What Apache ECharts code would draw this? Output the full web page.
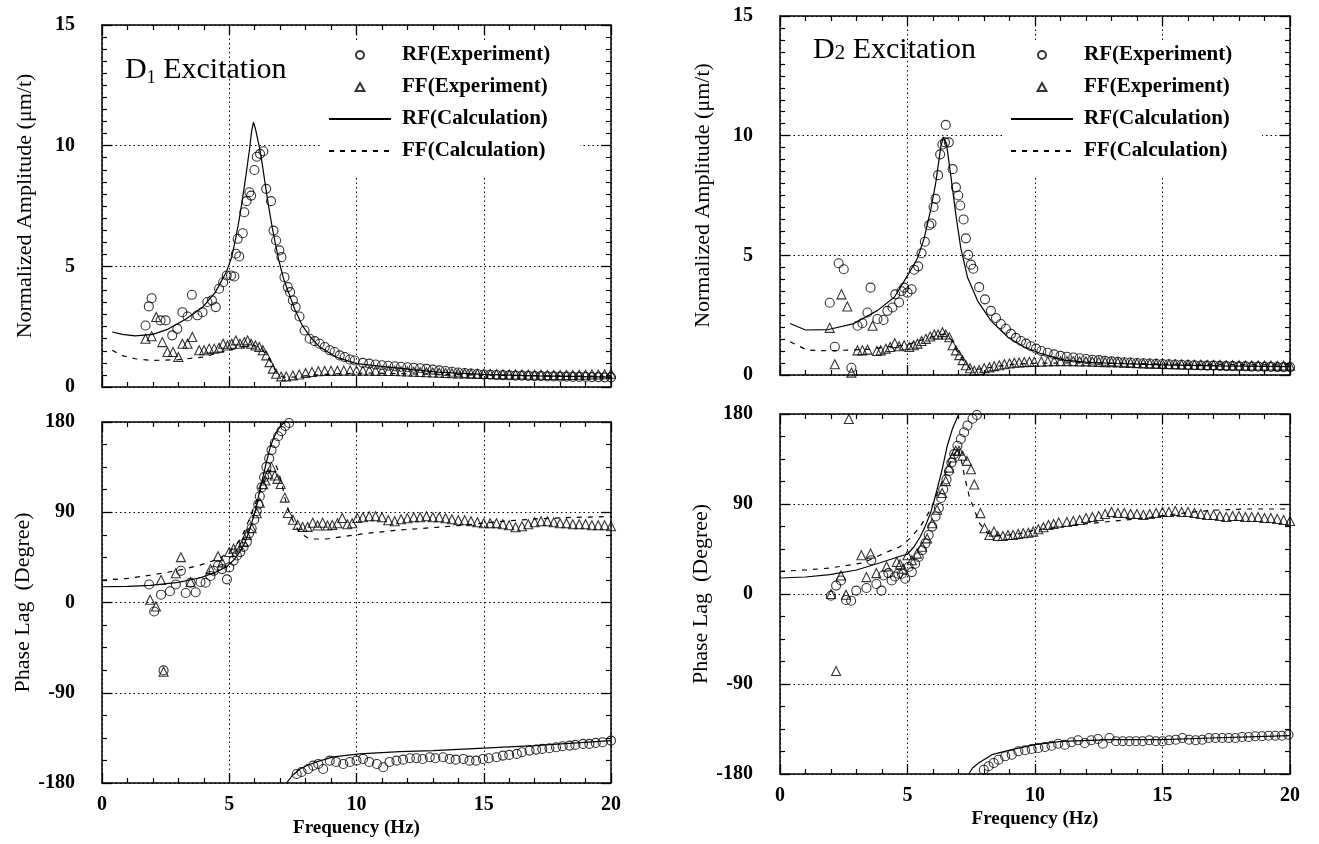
<!DOCTYPE html>
<html>
<head>
<meta charset="utf-8">
<script src="https://cdn.jsdelivr.net/npm/echarts@6/dist/echarts.min.js"></script>
<style>
html,body{margin:0;padding:0;background:#fff;}
#chart{width:1319px;height:844px;}
</style>
</head>
<body>
<div id="chart"></div>
<script>
// ---------- tick labels ----------
const freqTicks = [0, 5, 10, 15, 20];
const ampTicks = [0, 5, 10, 15];
const phaseTicks = [-180, -90, 0, 90, 180];

// ---------- series names ----------
const seriesNames = ['RF(Experiment)', 'FF(Experiment)', 'RF(Calculation)', 'FF(Calculation)'];

// shared frequency grid of the high-frequency tails (Hz)
const tailFreq = [10.25,10.5,10.75,11,11.25,11.5,11.75,12,12.25,12.5,12.75,13,13.25,13.5,13.75,14,14.25,14.5,14.75,15,15.25,15.5,15.75,16,16.25,16.5,16.75,17,17.25,17.5,17.75,18,18.25,18.5,18.75,19,19.25,19.5,19.75,20];

// ================= D1 excitation : amplitude =================
const d1AmpRfExp = [[1.71,2.55],[1.84,3.34],[1.95,3.68],[2.3,2.76],[2.5,2.76],[2.76,2.14],[2.96,2.41],[3.16,3.1],[3.36,2.92],[3.53,3.82],[3.75,2.97],[3.95,3.1],[4.14,3.52],[4.32,3.59],[4.47,3.31],[4.6,4.07],[4.76,4.34],[4.9,4.62],[5.07,4.62],[5.2,4.58],[5.26,5.52],[5.33,6.14],[5.39,5.41],[5.53,6.37],[5.59,7.24],[5.68,7.7],[5.79,8.07],[5.86,7.93],[5.99,8.99],[6.08,9.54],[6.21,9.66],[6.34,9.77],[6.45,8.21],[6.64,7.7],[6.74,6.48],[6.84,6.07],[6.97,5.66],[7.05,5.38],[7.17,4.55],[7.3,4.14],[7.39,3.93],[7.5,3.59],[7.61,3.31],[7.76,2.92],[7.96,2.34],[8.16,2.0],[8.36,1.9],[8.55,1.79],[8.75,1.66],[8.95,1.52],[9.14,1.45],[9.34,1.31],[9.54,1.24],[9.74,1.14],[9.93,1.1]];
const d1AmpRfExpTail = [1.0,0.97,0.93,0.9,0.88,0.86,0.84,0.82,0.8,0.78,0.75,0.72,0.69,0.66,0.63,0.6,0.58,0.56,0.54,0.52,0.51,0.5,0.49,0.48,0.47,0.47,0.46,0.45,0.45,0.44,0.44,0.43,0.43,0.42,0.42,0.42,0.41,0.41,0.4,0.4];
const d1AmpFfExp = [[1.71,2.0],[1.95,2.1],[2.13,2.9],[2.37,1.86],[2.57,1.45],[2.79,1.45],[3.0,1.24],[3.16,1.79],[3.36,1.79],[3.55,2.07],[3.82,1.52],[4.01,1.52],[4.21,1.59],[4.41,1.59],[4.6,1.63],[4.76,1.79],[4.93,1.72],[5.1,1.79],[5.26,1.93],[5.42,1.79],[5.59,1.86],[5.72,1.93],[5.86,1.79],[6.03,1.72],[6.18,1.66],[6.32,1.52],[6.45,1.31],[6.58,1.03],[6.71,0.76],[6.84,0.55],[7.04,0.44],[7.24,0.44],[7.5,0.48],[7.75,0.52],[8.0,0.58],[8.25,0.62],[8.5,0.65],[8.75,0.66],[9.0,0.67],[9.25,0.67],[9.5,0.68],[9.75,0.68],[10.0,0.68]];
const d1AmpFfExpTail = [0.68,0.68,0.67,0.67,0.66,0.66,0.65,0.64,0.63,0.62,0.61,0.6,0.59,0.58,0.57,0.56,0.56,0.55,0.55,0.54,0.54,0.53,0.53,0.52,0.52,0.52,0.51,0.51,0.51,0.5,0.5,0.5,0.5,0.5,0.51,0.51,0.52,0.52,0.53,0.55];
const d1AmpRfCalc = [[0.4,2.28],[0.8,2.18],[1.3,2.12],[2.0,2.18],[2.6,2.4],[3.3,2.82],[3.95,3.3],[4.45,3.92],[4.9,4.8],[5.1,5.4],[5.26,6.2],[5.4,7.0],[5.53,7.86],[5.66,8.8],[5.79,9.8],[5.88,10.6],[5.95,10.97],[6.03,10.7],[6.13,10.2],[6.23,9.7],[6.33,9.0],[6.43,8.28],[6.56,7.4],[6.69,6.6],[6.82,5.9],[6.95,5.24],[7.13,4.5],[7.35,3.86],[7.58,3.2],[7.87,2.55],[8.2,2.05],[8.55,1.66],[9.2,1.24],[10.0,0.97],[11.2,0.83],[12.2,0.72],[13.2,0.62],[15.0,0.52],[17.1,0.46],[20.0,0.41]];
const d1AmpFfCalc = [[0.4,1.52],[0.8,1.3],[1.3,1.17],[2.0,1.1],[3.0,1.13],[3.95,1.24],[4.7,1.45],[5.5,1.66],[6.0,1.72],[6.25,1.59],[6.45,1.35],[6.6,1.1],[6.85,0.62],[7.1,0.41],[7.5,0.41],[8.16,0.48],[9.2,0.55],[10.5,0.58],[13.2,0.52],[15.8,0.48],[20.0,0.44]];

// ================= D1 excitation : phase =================
const d1PhRfExp = [[1.85,18],[2.05,-9],[2.32,7.8],[2.42,-67.7],[2.67,11.2],[2.9,18],[3.1,31.6],[3.29,9.5],[3.48,19.7],[3.68,10.2],[3.87,20.4],[4.07,19.7],[4.26,26.5],[4.39,31.6],[4.56,36.7],[4.72,33.3],[4.91,23.1],[5.0,35],[5.17,41.8],[5.3,46.9],[5.43,50.3],[5.56,55.4],[5.69,60.5],[5.78,69],[5.88,74],[5.98,82.5],[6.08,91],[6.14,97.8],[6.2,106],[6.27,114.8],[6.37,125],[6.46,135.2],[6.57,143.7],[6.66,152],[6.79,159],[6.92,165.8],[7.05,170.9],[7.2,176],[7.35,179]];
const d1PhRfExpLow = [[7.65,-171],[7.84,-169],[8.1,-166],[8.3,-162.7],[8.5,-161],[8.69,-166],[8.95,-157.7],[9.2,-159],[9.48,-161],[9.74,-159],[10.0,-157.7],[10.26,-156],[10.5,-159],[10.8,-161],[11.05,-164.3],[11.3,-159],[11.57,-157.7],[11.83,-156.7],[12.1,-155.3],[12.35,-155.3],[12.6,-156],[12.88,-154.3],[13.1,-155.3],[13.4,-154.3],[13.66,-156],[13.9,-156.7],[14.2,-156],[14.44,-157.7],[14.7,-157.7],[14.97,-156],[15.2,-155.3],[15.5,-154.3],[15.75,-152.7],[16.0,-152],[16.3,-151],[16.5,-149.3],[16.8,-147.7],[17.06,-146.7],[17.3,-146],[17.58,-145.3],[17.84,-144.3],[18.1,-143.3],[18.37,-142.7],[18.6,-142],[18.9,-141],[19.15,-141],[19.4,-140],[19.67,-139.3],[20.0,-137.7]];
const d1PhFfExp = [[1.89,2.7],[2.12,-4],[2.32,22.4],[2.42,-69],[2.9,29.2],[3.1,45.2],[3.48,20.4],[4.26,33.3],[4.56,46.2],[4.72,40],[5.0,50.3],[5.17,53.7],[5.36,57],[5.56,60.5],[5.69,67.3],[5.88,74],[6.08,89],[6.2,99.5],[6.33,118],[6.42,121.6],[6.53,128.4],[6.66,135],[6.79,126.7],[6.89,123.3],[7.02,118.2],[7.18,104.6],[7.3,89.3],[7.5,82.5],[7.69,77.4],[7.88,75.4],[8.08,75.4],[8.28,79.5],[8.47,76.8],[8.67,79.5],[8.86,76.8],[9.05,77.4],[9.25,79],[9.44,84.2],[9.64,78],[9.83,79],[10.03,84.2]];
const d1PhFfExpTail = [85,86,86,85,82,81,83,84,85,85,86,85,85,84,83,82,82,81,80,79,79,79,78,77,75,76,78,80,81,81,80,79,79,78,78,78,77,77,77,76];
const d1PhRfCalcUp = [[0,15.7],[1.0,16],[1.9,17],[3.0,20],[3.86,24.7],[4.4,29.5],[4.9,35.7],[5.2,43],[5.42,50.7],[5.62,60],[5.82,74],[5.95,85],[6.08,97],[6.2,112],[6.34,127],[6.47,141],[6.6,154],[6.73,163],[6.86,170],[7.05,177],[7.2,180]];
const d1PhRfCalcLow = [[7.25,-180],[7.5,-172],[7.78,-166],[8.1,-162],[8.43,-159],[9.08,-154],[10.13,-151],[11.7,-148.7],[13.0,-147.7],[15.0,-145.3],[17.0,-142.7],[20.0,-137.7]];
const d1PhFfCalc = [[0,22.3],[1.0,24],[1.9,27.3],[3.0,32],[3.86,37.3],[4.64,44],[5.16,54],[5.45,63],[5.69,77],[5.9,90],[6.08,102],[6.28,115],[6.47,125.7],[6.73,135.7],[6.85,136],[6.93,130.7],[7.05,120],[7.19,104],[7.35,90],[7.52,80.7],[7.78,69],[8.17,63.3],[8.82,63.3],[9.74,66.7],[10.4,69],[11.7,72.3],[13.0,74.7],[14.3,77.3],[15.6,80.7],[17.0,83.3],[18.2,84.7],[20.0,85.7]];

// ================= D2 excitation : amplitude =================
const d2AmpRfExp = [[1.95,3.02],[2.15,1.18],[2.3,4.67],[2.5,4.42],[2.8,0.3],[3.04,2.06],[3.23,2.16],[3.43,2.61],[3.55,3.65],[3.82,2.34],[4.06,2.3],[4.21,2.68],[4.41,2.82],[4.52,3.37],[4.67,3.03],[4.76,3.5],[4.87,3.65],[5.0,3.44],[5.16,3.58],[5.26,4.4],[5.42,4.54],[5.55,5.09],[5.68,5.57],[5.85,6.26],[5.94,6.33],[6.02,7.02],[6.1,7.36],[6.2,8.35],[6.28,9.22],[6.37,9.63],[6.47,9.72],[6.5,10.45],[6.62,9.72],[6.77,8.6],[6.9,7.84],[6.99,7.5],[7.07,7.08],[7.2,6.5],[7.29,5.71],[7.38,5.02],[7.49,4.61],[7.58,4.44],[7.81,3.67],[8.04,3.16],[8.27,2.68],[8.47,2.38],[8.66,2.13],[8.86,1.93],[9.06,1.72],[9.25,1.55],[9.45,1.42],[9.65,1.31],[9.84,1.2],[10.04,1.1]];
const d2AmpRfExpTail = [1.0,0.93,0.86,0.8,0.76,0.73,0.7,0.67,0.64,0.62,0.59,0.57,0.55,0.53,0.52,0.5,0.49,0.48,0.47,0.46,0.45,0.44,0.43,0.42,0.41,0.4,0.39,0.39,0.38,0.37,0.37,0.36,0.36,0.35,0.35,0.34,0.34,0.33,0.33,0.33];
const d2AmpFfExp = [[1.95,1.97],[2.15,0.45],[2.41,3.37],[2.64,2.86],[2.8,0.1],[3.04,1.03],[3.23,1.03],[3.43,1.06],[3.63,2.06],[3.8,1.0],[3.95,1.03],[4.15,1.1],[4.32,1.17],[4.5,1.33],[4.67,1.2],[4.87,1.24],[5.07,1.17],[5.24,1.24],[5.39,1.31],[5.55,1.42],[5.72,1.51],[5.89,1.61],[6.05,1.69],[6.2,1.69],[6.37,1.79],[6.5,1.69],[6.64,1.58],[6.77,1.24],[6.9,1.03],[7.03,0.83],[7.16,0.62],[7.29,0.41],[7.45,0.28],[7.62,0.18],[7.81,0.21],[8.01,0.28],[8.21,0.32],[8.4,0.37],[8.6,0.41],[8.8,0.45],[9.0,0.48],[9.19,0.51],[9.38,0.52],[9.58,0.54],[9.78,0.55],[9.97,0.55]];
const d2AmpFfExpTail = [0.56,0.57,0.58,0.58,0.58,0.58,0.57,0.57,0.56,0.55,0.54,0.53,0.52,0.51,0.5,0.49,0.48,0.47,0.47,0.46,0.45,0.45,0.44,0.44,0.43,0.43,0.42,0.42,0.42,0.41,0.41,0.41,0.4,0.4,0.4,0.4,0.4,0.39,0.39,0.39];
const d2AmpRfCalc = [[0.4,2.15],[1.0,1.88],[1.9,1.9],[2.9,2.15],[3.83,2.7],[4.49,3.26],[5.0,4.15],[5.39,4.88],[5.65,5.7],[5.92,6.95],[6.11,8.05],[6.31,9.56],[6.41,9.95],[6.54,9.56],[6.7,8.32],[6.9,6.67],[7.09,5.3],[7.36,4.06],[7.75,3.1],[8.27,2.27],[8.93,1.58],[9.58,1.17],[10.24,0.89],[11.15,0.62],[12.0,0.54],[13.2,0.48],[15.0,0.42],[17.2,0.38],[20.0,0.35]];
const d2AmpFfCalc = [[0.4,1.39],[1.06,1.04],[1.91,1.01],[2.64,1.04],[3.43,1.07],[4.22,1.18],[4.95,1.25],[5.54,1.46],[6.2,1.67],[6.46,1.71],[6.73,1.46],[6.99,0.9],[7.26,0.49],[7.52,0.21],[7.78,0.24],[8.44,0.35],[9.23,0.46],[10.0,0.49],[11.9,0.51],[15.0,0.46],[20.0,0.42]];

// ================= D2 excitation : phase =================
const d2PhRfExp = [[2.0,-1.7],[2.2,8.4],[2.39,13.5],[2.59,-6],[2.79,-6.7],[2.99,3.4],[3.39,6],[3.58,33.7],[3.78,10],[3.98,3.4],[4.05,18.5],[4.25,20.9],[4.38,13.5],[4.51,17.5],[4.64,20.2],[4.78,20.2],[4.91,15.2],[5.04,27],[5.17,21.9],[5.3,30.3],[5.44,37],[5.57,43.8],[5.7,50.6],[5.83,59],[5.97,67.4],[6.1,77.5],[6.23,86],[6.32,96],[6.4,104.5],[6.53,114.6],[6.63,123],[6.72,131.4],[6.83,139.9],[6.96,148.3],[7.09,155],[7.22,161.8],[7.35,168.5],[7.55,175.3],[7.72,179]];
const d2PhRfExpLow = [[7.99,-175.7],[8.18,-172.3],[8.38,-169],[8.57,-165.7],[8.83,-162.3],[9.09,-160.7],[9.35,-157.3],[9.61,-156.3],[9.87,-155],[10.13,-154],[10.39,-153],[10.65,-151.7],[10.91,-149.7],[11.17,-150.7],[11.43,-148.3],[11.69,-146.3],[11.95,-149],[12.21,-146.3],[12.47,-145],[12.66,-149.7],[12.92,-144],[13.18,-147.3],[13.44,-147.3],[13.7,-147.3],[13.96,-147.3],[14.22,-147.3],[14.48,-146.3],[14.74,-147.3],[15.0,-147.3],[15.26,-146.3],[15.52,-145.7],[15.78,-144],[16.04,-145.7],[16.3,-146.3],[16.56,-145.7],[16.82,-144],[17.08,-144],[17.34,-144],[17.6,-144],[17.86,-144],[18.12,-143],[18.38,-143],[18.64,-142.3],[18.9,-142.3],[19.16,-141.7],[19.42,-141.7],[19.68,-141.7],[19.94,-140.7]];
const d2PhFfExp = [[2.0,0],[2.2,-77],[2.39,18.5],[2.59,-0.7],[2.7,175],[3.19,38.8],[3.39,16.9],[3.55,40.4],[3.78,20.9],[4.18,27.6],[4.58,32],[4.71,29.7],[4.84,25.3],[5.0,38.8],[5.17,33.7],[5.37,40.4],[5.57,47.2],[5.77,55.6],[5.97,70.8],[6.16,84.3],[6.36,101],[6.5,112.9],[6.63,126.4],[6.76,136.5],[6.89,143.2],[7.02,143.2],[7.16,138.2],[7.33,133.1],[7.49,124.7],[7.62,109.5],[7.86,80.9],[8.02,65.7],[8.21,59],[8.39,62.4],[8.54,58],[8.74,58],[8.94,59],[9.14,59],[9.34,60],[9.54,60.7],[9.74,61.3],[9.93,62.4],[10.13,64.7],[10.33,66.7],[10.53,69],[10.73,70],[10.93,71.4],[11.25,72],[11.5,73],[11.75,74],[12,76],[12.25,77],[12.5,78],[12.75,80],[13,82],[13.25,81],[13.5,81],[13.75,80],[14,80],[14.25,79],[14.5,80],[14.75,81],[15,82],[15.25,82],[15.5,83],[15.75,82],[16,82],[16.25,81],[16.5,80],[16.75,79],[17,79],[17.25,78],[17.5,77],[17.75,78],[18,78],[18.25,77],[18.5,77],[18.75,77],[19,76],[19.25,76],[19.5,75],[19.75,74],[20,73]];
const d2PhRfCalcUp = [[0,16],[1.0,17],[1.95,19.3],[3.0,24],[3.9,31],[4.5,36],[5.0,40],[5.25,47],[5.5,57.3],[5.7,68],[5.9,80.9],[6.03,92],[6.16,104.5],[6.36,124.7],[6.56,148.3],[6.76,165],[6.96,177],[7.02,180]];
const d2PhRfCalcLow = [[7.4,-180],[7.55,-174],[7.79,-169],[8.31,-160.7],[9.09,-155.7],[10.0,-150.7],[11.04,-147.3],[13.0,-145.7],[15.0,-145.7],[16.9,-144],[20.0,-141.7]];
const d2PhFfCalc = [[0,22.7],[1.0,24],[1.95,26],[3.25,31],[4.05,40.4],[4.7,47.2],[5.1,55.6],[5.5,67.4],[5.9,84.3],[6.23,104.5],[6.56,124.7],[6.83,139.9],[7.0,146.6],[7.1,135],[7.22,119.6],[7.42,97.7],[7.62,84.3],[7.82,70.8],[8.15,60.7],[8.68,58],[9.47,60.7],[10.0,64],[11.69,69.3],[13.0,72.7],[14.3,76],[15.6,80.3],[16.9,83.7],[18.2,85],[20.0,85]];

// ---------- helpers ----------
function zip(xs, ys) { return xs.map(function (x, i) { return [x, ys[i]]; }); }
function brk(a, b) { return a.concat([[a[a.length - 1][0], null]], b); }

const SERIF = "'Liberation Serif','Times New Roman',serif";
const BLACK = '#000';
const CLEAR = 'rgba(255,255,255,0)';

function sc(name, data, symbol, g) {
  return { type: 'scatter', name: name, data: data, symbol: symbol, symbolSize: 9,
    xAxisIndex: 2 * g, yAxisIndex: 2 * g, silent: true, z: 3,
    itemStyle: { color: CLEAR, borderColor: BLACK, borderWidth: 1.1 } };
}
function ln(name, data, dashed, g) {
  return { type: 'line', name: name, data: data, symbol: 'none', showSymbol: false,
    xAxisIndex: 2 * g, yAxisIndex: 2 * g, silent: true, z: 2, connectNulls: false,
    itemStyle: { color: CLEAR, borderWidth: 0 },
    lineStyle: { color: BLACK, width: 1.2, type: dashed ? [5, 6] : 'solid' } };
}

const lbl = { fontFamily: SERIF, fontWeight: 'bold', fontSize: 20, color: BLACK };
function xAx(g, pos, showLabel) {
  const o = { type: 'value', gridIndex: g, position: pos,
    min: freqTicks[0], max: freqTicks[freqTicks.length - 1], interval: freqTicks[1] - freqTicks[0],
    axisLine: { show: true, onZero: false, lineStyle: { color: BLACK, width: 1.5 } },
    axisTick: { show: true, inside: true, length: 10, lineStyle: { color: BLACK, width: 1.3 } },
    minorTick: { show: true, splitNumber: 5, length: 5, lineStyle: { color: BLACK, width: 1.2 } },
    axisLabel: Object.assign({ show: showLabel, margin: 12 }, lbl),
    splitLine: { show: pos === 'bottom', lineStyle: { color: BLACK, width: 1, type: [1.5, 3] } } };
  if (showLabel) {
    o.name = 'Frequency (Hz)';
    o.nameLocation = 'middle';
    o.nameGap = 36;
    o.nameTextStyle = { fontFamily: SERIF, fontWeight: 'bold', fontSize: 19, color: BLACK };
  }
  return o;
}
function yAx(g, pos, ticks, minorSplit, name) {
  const o = { type: 'value', gridIndex: g, position: pos,
    min: ticks[0], max: ticks[ticks.length - 1], interval: ticks[1] - ticks[0],
    axisLine: { show: true, onZero: false, lineStyle: { color: BLACK, width: 1.5 } },
    axisTick: { show: true, inside: true, length: 10, lineStyle: { color: BLACK, width: 1.3 } },
    minorTick: { show: true, splitNumber: minorSplit, length: 5, lineStyle: { color: BLACK, width: 1.2 } },
    axisLabel: Object.assign({ show: pos === 'left', margin: 27 }, lbl),
    splitLine: { show: pos === 'left', lineStyle: { color: BLACK, width: 1, type: [1.5, 3] } } };
  if (name) {
    o.name = name;
    o.nameLocation = 'middle';
    o.nameGap = 66;
    o.nameTextStyle = { fontFamily: SERIF, fontSize: 22, color: BLACK };
  }
  return o;
}

const grids = [
  { left: 102, top: 25, width: 509, height: 362 },
  { left: 102, top: 422, width: 509, height: 361 },
  { left: 780, top: 16, width: 510, height: 359 },
  { left: 780, top: 414, width: 510, height: 360 }
];

const xAxes = [], yAxes = [];
[0, 1, 2, 3].forEach(function (g) {
  const phase = (g === 1 || g === 3);
  xAxes.push(xAx(g, 'bottom', phase));
  xAxes.push(xAx(g, 'top', false));
  yAxes.push(yAx(g, 'left', phase ? phaseTicks : ampTicks, phase ? 4 : 10,
    phase ? 'Phase Lag  (Degree)' : 'Normalized Amplitude (\u03bcm/t)'));
  yAxes.push(yAx(g, 'right', phase ? phaseTicks : ampTicks, phase ? 4 : 10, null));
});

const series = [
  // D1 amplitude
  ln(seriesNames[2], d1AmpRfCalc, false, 0),
  ln(seriesNames[3], d1AmpFfCalc, true, 0),
  sc(seriesNames[0], d1AmpRfExp.concat(zip(tailFreq, d1AmpRfExpTail)), 'circle', 0),
  sc(seriesNames[1], d1AmpFfExp.concat(zip(tailFreq, d1AmpFfExpTail)), 'triangle', 0),
  // D1 phase
  ln(seriesNames[2], brk(d1PhRfCalcUp, d1PhRfCalcLow), false, 1),
  ln(seriesNames[3], d1PhFfCalc, true, 1),
  sc(seriesNames[0], d1PhRfExp.concat(d1PhRfExpLow), 'circle', 1),
  sc(seriesNames[1], d1PhFfExp.concat(zip(tailFreq, d1PhFfExpTail)), 'triangle', 1),
  // D2 amplitude
  ln(seriesNames[2], d2AmpRfCalc, false, 2),
  ln(seriesNames[3], d2AmpFfCalc, true, 2),
  sc(seriesNames[0], d2AmpRfExp.concat(zip(tailFreq, d2AmpRfExpTail)), 'circle', 2),
  sc(seriesNames[1], d2AmpFfExp.concat(zip(tailFreq, d2AmpFfExpTail)), 'triangle', 2),
  // D2 phase
  ln(seriesNames[2], brk(d2PhRfCalcUp, d2PhRfCalcLow), false, 3),
  ln(seriesNames[3], d2PhFfCalc, true, 3),
  sc(seriesNames[0], d2PhRfExp.concat(d2PhRfExpLow), 'circle', 3),
  sc(seriesNames[1], d2PhFfExp, 'triangle', 3)
];

function legendAt(left) {
  return { orient: 'vertical', left: left, top: 42, itemWidth: 62, itemHeight: 8, itemGap: 10,
    selectedMode: false, backgroundColor: '#fff', padding: [2, 30, 16, 6],
    data: [
      { name: seriesNames[0] },
      { name: seriesNames[1], icon: 'path://M5,0L10,9L0,9Z' },
      { name: seriesNames[2] },
      { name: seriesNames[3] }
    ],
    textStyle: { fontFamily: SERIF, fontWeight: 'bold', fontSize: 21, lineHeight: 22, color: BLACK,
      padding: [0, 0, 0, 6] } };
}

const option = {
  animation: false,
  backgroundColor: '#fff',
  title: [
    { text: '{a|D}{s|1}{a| Excitation}', left: 120, top: 48,
      textStyle: { fontWeight: 'normal', rich: {
        a: { fontFamily: SERIF, fontSize: 30, fontWeight: 'normal', lineHeight: 34, color: BLACK },
        s: { fontFamily: SERIF, fontSize: 18, fontWeight: 'normal', lineHeight: 18, verticalAlign: 'bottom', color: BLACK }
      } } },
    { text: '{a|D}{b|2}{a| Excitation}', left: 808, top: 28,
      textStyle: { fontWeight: 'normal', rich: {
        a: { fontFamily: SERIF, fontSize: 30, fontWeight: 'normal', lineHeight: 34, color: BLACK },
        b: { fontFamily: SERIF, fontSize: 21, fontWeight: 'normal', lineHeight: 34, color: BLACK, padding: [6, 0, 0, 0] }
      } } }
  ],
  legend: [legendAt(322), legendAt(1004)],
  grid: grids,
  xAxis: xAxes,
  yAxis: yAxes,
  series: series
};

const chart = echarts.init(document.getElementById('chart'), null, { renderer: 'canvas' });
chart.setOption(option);
</script>
</body>
</html>
